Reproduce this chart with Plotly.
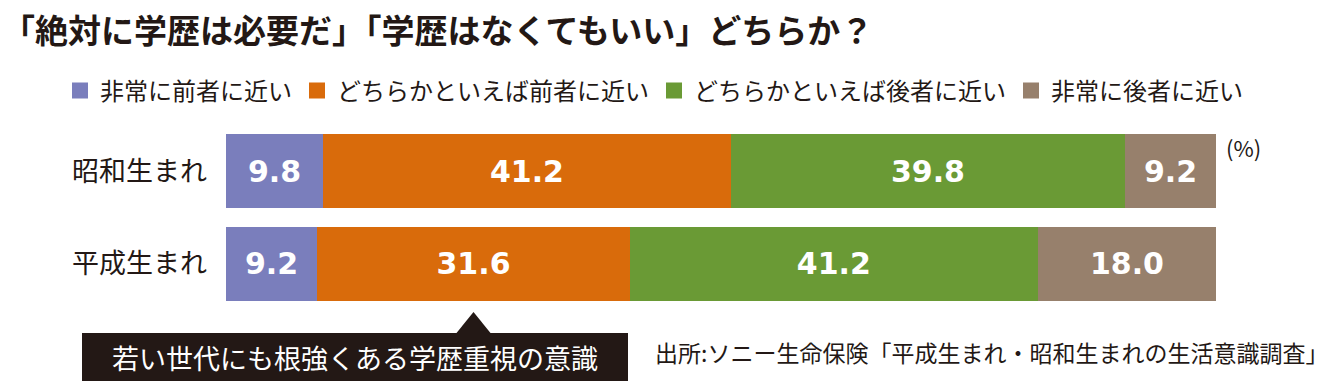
import plotly.graph_objects as go

categories = ["昭和生まれ", "平成生まれ"]
series_names = ["非常に前者に近い", "どちらかといえば前者に近い", "どちらかといえば後者に近い", "非常に後者に近い"]
very_former = [9.8, 9.2]
rather_former = [41.2, 31.6]
rather_latter = [39.8, 41.2]
very_latter = [9.2, 18.0]
colors = ["#7a7ebc", "#d96b0b", "#6a9a35", "#97806c"]

title_text = "「絶対に学歴は必要だ」「学歴はなくてもいい」どちらか？"
callout_text = "若い世代にも根強くある学歴重視の意識"
source_text = "出所:ソニー生命保険「平成生まれ・昭和生まれの生活意識調査」"
unit_text = "(%)"

TXT = "#231815"
JP = "Noto Sans CJK JP"

L, R, T, B = 226, 124, 125, 79
PW = 1340 - L - R
PH = 389 - T - B


def px_x(px):
    return (px - L) / PW


def px_y(py):
    return (389 - B - py) / PH


fig = go.Figure()
series = [very_former, rather_former, rather_latter, very_latter]
for name, vals, col in zip(series_names, series, colors):
    fig.add_trace(go.Bar(
        x=vals, y=categories, orientation="h", name=name,
        marker=dict(color=col, line=dict(width=0)),
        texttemplate="%{x:.1f}", textposition="inside", insidetextanchor="middle",
        textfont=dict(family="DejaVu Sans", size=30, color="white", weight="bold"),
        showlegend=False, legendgroup=name,
    ))
    fig.add_trace(go.Scatter(
        x=[None], y=[None], mode="markers", name=name, legendgroup=name,
        marker=dict(symbol="square", size=16, color=col), showlegend=True,
    ))

fig.update_layout(
    width=1340, height=389,
    margin=dict(l=L, r=R, t=T, b=B, autoexpand=False),
    paper_bgcolor="white", plot_bgcolor="white",
    barmode="stack", bargap=0.2,
    legend=dict(orientation="h", x=px_x(60), xanchor="left", y=px_y(91), yanchor="middle",
                font=dict(family=JP, size=24, color=TXT), itemwidth=30,
                bgcolor="rgba(0,0,0,0)", traceorder="normal"),
    xaxis=dict(range=[0, 100], visible=False, fixedrange=True),
    yaxis=dict(categoryorder="array", categoryarray=categories, autorange="reversed",
               showgrid=False, zeroline=False, showline=False, ticks="",
               ticklabelstandoff=18,
               tickfont=dict(family=JP, size=27, color=TXT)),
    showlegend=True,
)

fig.add_annotation(xref="paper", yref="paper", x=px_x(0), y=px_y(29), text=title_text,
                   showarrow=False, xanchor="left", yanchor="middle",
                   font=dict(family=JP, size=33, color=TXT, weight="bold"))

# callout box with pointer to 平成生まれ "どちらかといえば前者に近い"
ptr_x = very_former[1] + rather_former[1] / 2
fig.add_shape(type="rect", xref="paper", yref="paper", x0=px_x(82), x1=px_x(628),
              y0=px_y(381), y1=px_y(333),
              fillcolor=TXT, line=dict(width=0), layer="above")
fig.add_shape(type="path", xref="x", yref="paper",
              path=f"M {ptr_x-1.8},{px_y(334)} L {ptr_x},{px_y(312)} L {ptr_x+1.8},{px_y(334)} Z",
              fillcolor=TXT, line=dict(width=0), layer="above")
fig.add_annotation(xref="paper", yref="paper", x=px_x(355), y=px_y(357), text=callout_text,
                   showarrow=False, font=dict(family=JP, size=27, color="white"),
                   xanchor="center", yanchor="middle")
fig.add_annotation(xref="paper", yref="paper", x=px_x(653), y=px_y(352), text=source_text,
                   showarrow=False, xanchor="left", yanchor="middle",
                   font=dict(family=JP, size=23, color=TXT))
fig.add_annotation(xref="paper", yref="paper", x=px_x(1224), y=px_y(147), text=unit_text,
                   showarrow=False, xanchor="left", yanchor="middle",
                   font=dict(family=JP, size=22, color=TXT))

fig.write_html("out.html", config={"displayModeBar": False},
               post_script="document.body.style.margin='0';")
